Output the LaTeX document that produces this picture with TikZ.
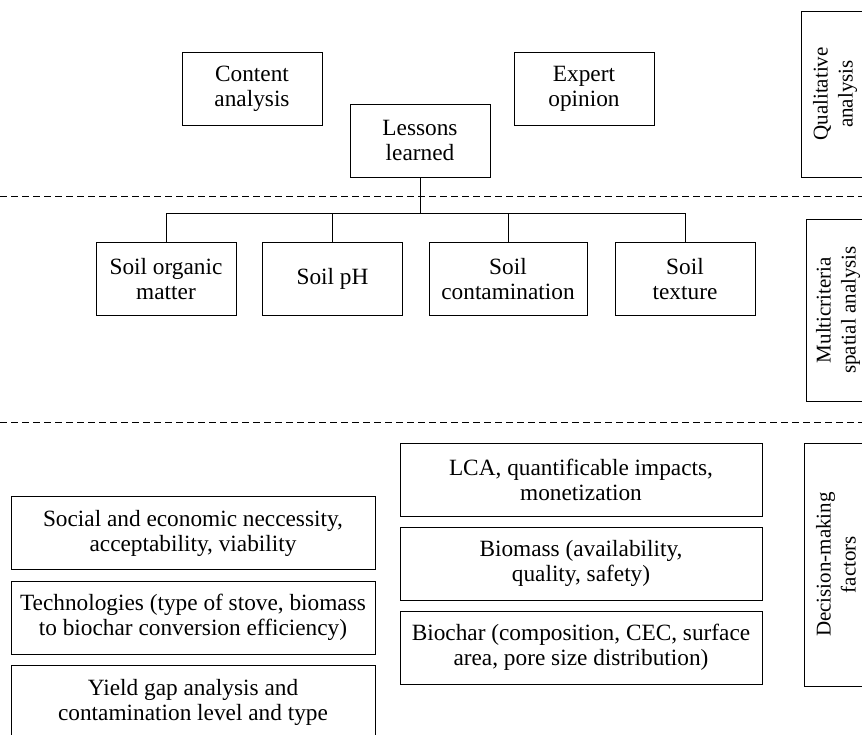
\documentclass[tikz,border=0pt]{standalone}
\usepackage{fontspec}
\setmainfont{Liberation Serif}
\begin{document}
\begin{tikzpicture}[x=1pt,y=-1pt,
  box/.style={draw=black,line width=0.9pt,align=center,inner sep=0pt,
    font=\fontsize{23.3}{25}\selectfont,minimum height=73pt},
  side/.style={draw=black,line width=0.9pt,align=center,inner sep=0pt,
    font=\fontsize{21}{25}\selectfont,rotate=90},
  sep/.style={line width=0.9pt,dash pattern=on 7pt off 4pt},
  link/.style={line width=0.9pt}]
\useasboundingbox (0,0) rectangle (862,735);
\clip (0,0) rectangle (862,735);
% qualitative
\node[box,minimum width=140pt] (ca) at (252,88.5) {Content\\analysis};
\node[box,minimum width=140pt] (eo) at (584,88.5) {Expert\\opinion};
\node[box,minimum width=140pt] (ll) at (420,140.5) {Lessons\\learned};
\node[side,minimum width=166pt,minimum height=68pt] (qa) at (835,94) {Qualitative\\analysis};
\draw[sep] (0,196) coordinate (d1a) -- (862,196) coordinate (d1b);
% multicriteria
\node[box,minimum width=140pt] (som) at (166,279) {Soil organic\\matter};
\node[box,minimum width=140pt] (ph) at (332.5,279) {Soil pH};
\node[box,minimum width=158pt] (con) at (508,279) {Soil\\contamination};
\node[box,minimum width=140pt] (tex) at (685,279) {Soil\\texture};
\node[side,minimum width=182pt,minimum height=64pt] (msa) at (838,310) {Multicriteria\\spatial analysis};
\coordinate (bus) at (420,213.5);
\draw[link] (ll.south) -- (bus);
\draw[link] (som.north) |- (bus);
\draw[link] (ph.north) |- (bus);
\draw[link] (con.north) |- (bus);
\draw[link] (tex.north) |- (bus);
\draw[sep] (0,422) coordinate (d2a) -- (862,422) coordinate (d2b);
% decision-making
\node[box,minimum width=362pt] (lca) at (581,479.5) {LCA, quantificable impacts,\\monetization};
\node[box,minimum width=362pt] (bm) at (581,563.5) {Biomass (availability,\\quality, safety)};
\node[box,minimum width=362pt] (bc) at (581,647.5) {Biochar (composition, CEC, surface\\area, pore size distribution)};
\node[box,minimum width=364pt] (soc) at (193,533) {Social and economic neccessity,\\acceptability, viability};
\node[box,minimum width=364pt] (tech) at (193,617.5) {Technologies (type of stove, biomass\\to biochar conversion efficiency)};
\node[box,minimum width=364pt] (yg) at (193,702) {Yield gap analysis and\\contamination level and type};
\node[side,minimum width=243pt,minimum height=64pt] (dmf) at (836,564.5) {Decision-making\\factors};
\end{tikzpicture}
\end{document}
